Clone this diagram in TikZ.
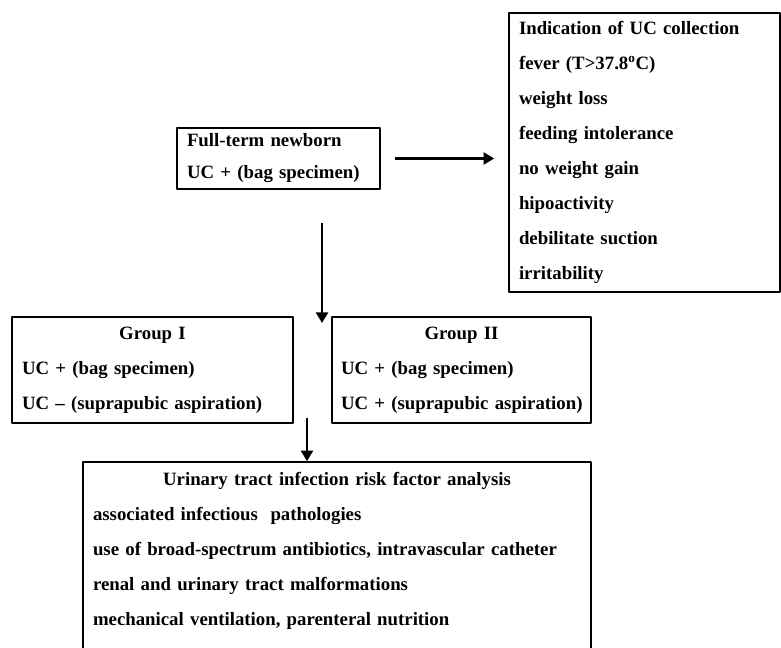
\documentclass[tikz,border=0pt]{standalone}
\usepackage{fontspec}
\setmainfont{Liberation Serif}
\usetikzlibrary{arrows.meta}
\begin{document}
\begin{tikzpicture}[x=0.75pt, y=-0.75pt, line join=round, >={Triangle[length=8pt,width=9pt]},
  font=\bfseries\fontsize{14.1}{26.25}\selectfont,
  box/.style={draw, line width=1.2pt, align=left, inner xsep=7.5pt, inner ysep=0pt},
  link/.style={->, line width=2.1pt}]
\useasboundingbox (0,0) rectangle (781,648);
\node[box, font=\bfseries\fontsize{14.1}{24}\selectfont, text width=137.25pt, minimum height=45.75pt] (born) at (278.5,158.5)
  {Full-term newborn\\UC + (bag specimen)};
\node[box, text width=188.25pt, minimum height=209.25pt] (indic) at (644.5,152.5)
  {Indication of UC collection\\fever (T>37.8\textsuperscript{o}C)\\weight loss\\feeding intolerance\\no weight gain\\hipoactivity\\debilitate suction\\irritability};
\node[box, text width=195.75pt, minimum height=79.5pt] (grp1) at (152.5,370)
  {\makebox[\linewidth]{Group I}\\UC + (bag specimen)\\UC -- (suprapubic aspiration)};
\node[box, inner xsep=6.75pt, text width=180.75pt, minimum height=79.5pt] (grp2) at (461.5,370)
  {\makebox[\linewidth]{Group II}\\UC + (bag specimen)\\\mbox{UC + (suprapubic aspiration)}};
\node[box, text width=366pt, minimum height=156pt] (risk) at (337,566)
  {\makebox[\linewidth]{Urinary tract infection risk factor analysis}\\associated infectious\ \ pathologies\\use of broad-spectrum antibiotics, intravascular catheter\\renal and urinary tract malformations\\mechanical ventilation, parenteral nutrition\\\mbox{}};
\path (322,223) coordinate (fork) (322,323) coordinate (forkend) (307,418) coordinate (merge);
\draw[link, shorten <=10.5pt, shorten >=10.5pt] (born.east) -- (born.east -| indic.west);
\draw[link] (fork) -- (forkend);
\draw[link] (merge) -- (merge |- risk.north);
\end{tikzpicture}
\end{document}
